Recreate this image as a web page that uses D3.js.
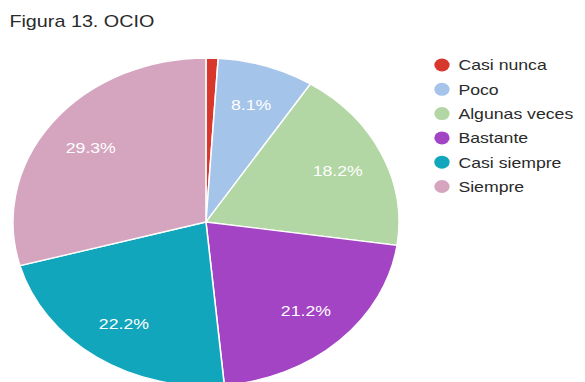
<!DOCTYPE html>
<html>
<head>
<meta charset="utf-8">
<script src="https://cdn.jsdelivr.net/npm/d3@7"></script>
<style>
  html, body { margin: 0; padding: 0; background: #ffffff; }
  svg { display: block; }
  text { font-family: "Liberation Sans", Arial, sans-serif; }
</style>
</head>
<body>
<svg id="chart" width="585" height="382"></svg>
<script>
// Responses (counts) per category
const categories = ["Casi nunca", "Poco", "Algunas veces", "Bastante", "Casi siempre", "Siempre"];
const counts = [1, 8, 18, 21, 22, 29];
const colors = ["#d8382c", "#a5c4ea", "#b2d6a4", "#a344c4", "#12a6bd", "#d5a5bf"];
const title = "Figura 13. OCIO";

const W = 585, H = 382;
const sx = 1.177;               // horizontal stretch of the whole figure
const cx = 175, cy = 222, r = 164;

const svg = d3.select("#chart");
const root = svg.append("g").attr("transform", `scale(${sx},1)`);

root.append("text")
  .attr("x", 8).attr("y", 27)
  .attr("font-size", 16.8)
  .attr("fill", "#2a2a2a")
  .text(title);

const total = d3.sum(counts);
const data = categories.map((c, i) => ({ cat: c, value: counts[i], color: colors[i] }));

const pie = d3.pie().value(d => d.value).sort(null);
const arcs = pie(data);
const arc = d3.arc().innerRadius(0).outerRadius(r);
const labelArc = d3.arc().innerRadius(r * 0.75).outerRadius(r * 0.75);

const pg = root.append("g").attr("transform", `translate(${cx},${cy})`);

pg.selectAll("path.slice")
  .data(arcs)
  .join("path")
  .attr("class", "slice")
  .attr("d", arc)
  .attr("fill", d => d.data.color)
  .attr("stroke", "#ffffff")
  .attr("stroke-width", 1.3);

const fmt = v => (v / total * 100).toFixed(1) + "%";

pg.selectAll("text.lbl")
  .data(arcs.filter(d => d.data.value / total > 0.05))
  .join("text")
  .attr("class", "lbl")
  .attr("transform", d => `translate(${labelArc.centroid(d)})`)
  .attr("text-anchor", "middle")
  .attr("dy", "0.35em")
  .attr("font-size", 15)
  .attr("fill", "#ffffff")
  .text(d => fmt(d.data.value));

// Legend
const lg = root.append("g").attr("transform", "translate(375.5,65)");
const rowH = 24.3;
const rows = lg.selectAll("g.row")
  .data(data)
  .join("g")
  .attr("class", "row")
  .attr("transform", (d, i) => `translate(0,${i * rowH})`);

rows.append("circle")
  .attr("r", 6.5)
  .attr("fill", d => d.color);

rows.append("text")
  .attr("x", 14)
  .attr("dy", "0.36em")
  .attr("font-size", 15)
  .attr("fill", "#2a2a2a")
  .text(d => d.cat);
</script>
</body>
</html>
